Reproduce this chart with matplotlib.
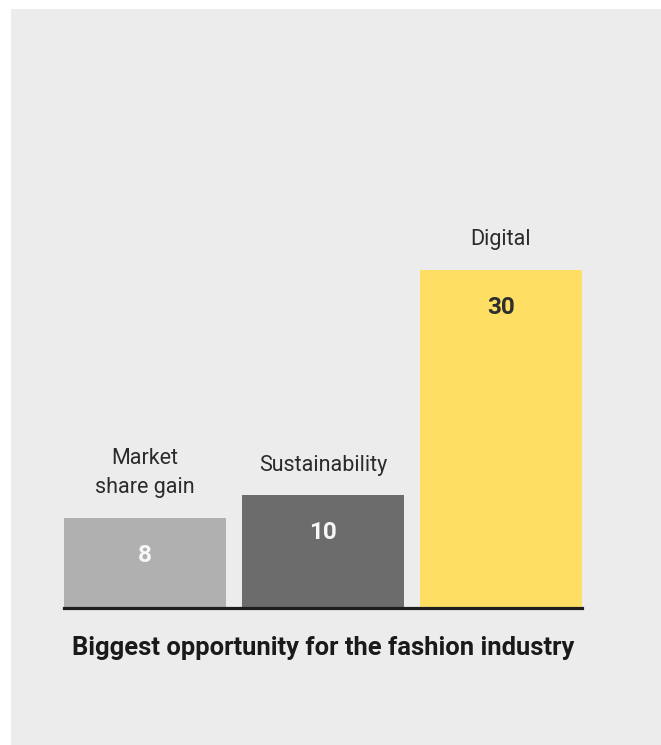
import matplotlib.pyplot as plt

categories = ["Market\nshare gain", "Sustainability", "Digital"]
values = [8, 10, 30]
bar_colors = ["#b0b0b0", "#6c6c6c", "#fedf63"]
value_colors = ["#f7f7f7", "#f7f7f7", "#2e2e2e"]
title = "Biggest opportunity for the fashion industry"

plt.rcParams['font.family'] = ['Roboto', 'DejaVu Sans']

W, H = 661, 745
fig = plt.figure(figsize=(W / 100, H / 100), dpi=100)
fig.patch.set_facecolor("white")

# gray backdrop panel
bg = fig.add_axes([11 / W, 0, 1 - 11 / W, 1 - 9 / H], zorder=-1)
bg.set_axis_off()
bg.add_patch(plt.Rectangle((0, 0), 1, 1, transform=bg.transAxes,
                           facecolor="#ececec", edgecolor="none"))

left, right, base, top = 64, 582, 608, 202
ax = fig.add_axes([left / W, 1 - base / H, (right - left) / W, (base - top) / H])
ax.set_facecolor("none")

x = range(len(values))
ax.bar(x, values, width=0.91, color=bar_colors, zorder=2)
ax.set_xlim(-0.455, 2.455)
ax.set_ylim(0, 36)
ax.axhline(0, color="#1e1e1e", lw=2.3, zorder=3, clip_on=False)

for i, v in enumerate(values):
    ax.annotate(categories[i], (i, v), xytext=(0, 14), textcoords="offset points",
                ha="center", va="bottom", fontsize=15.5, color="#2b2b2b",
                linespacing=1.55)
    ax.annotate(str(v), (i, v), xytext=(0, -27), textcoords="offset points",
                ha="center", va="center", fontsize=17.5, fontweight="bold",
                color=value_colors[i])

for s in ax.spines.values():
    s.set_visible(False)
ax.set_xticks([])
ax.set_yticks([])

fig.text(72 / W, 1 - 648 / H, title, ha="left", va="center",
         fontsize=18.4, fontweight="bold", color="#1a1a1a")

fig.savefig("out.png", dpi=100)
